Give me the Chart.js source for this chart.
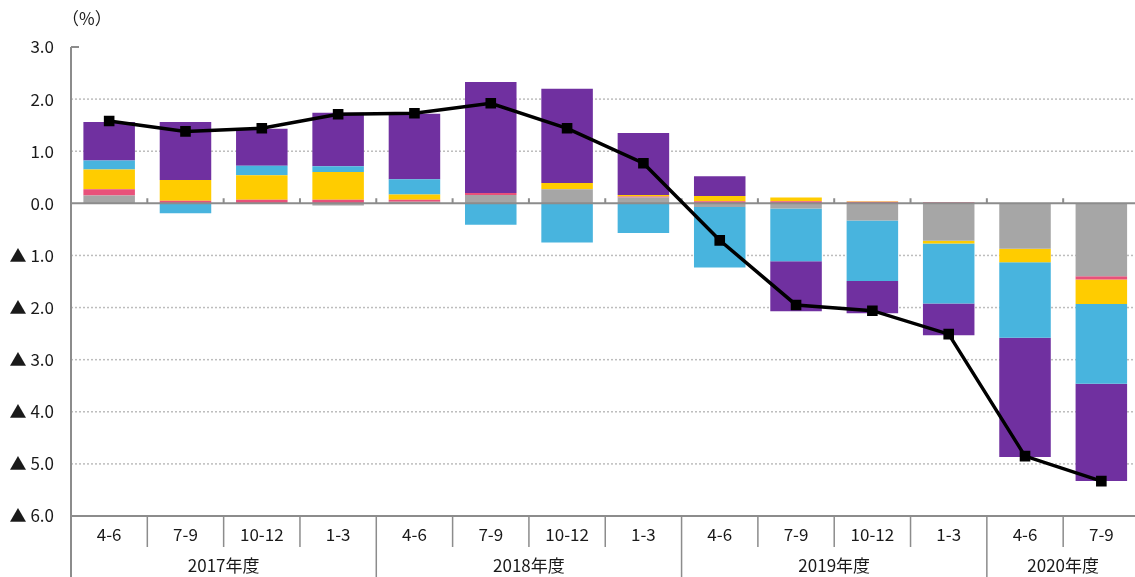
<!DOCTYPE html>
<html>
<head>
<meta charset="utf-8">
<script src="https://cdn.jsdelivr.net/npm/chart.js@4"></script>
<style>
  body { margin: 0; overflow: hidden; background: #fff; }
</style>
</head>
<body>
<canvas id="chart" width="1147" height="577"></canvas>
<script>
// 四半期・年度ラベル
const quarters = ['4-6', '7-9', '10-12', '1-3', '4-6', '7-9', '10-12', '1-3', '4-6', '7-9', '10-12', '1-3', '4-6', '7-9'];
const years = ['2017年度', '2018年度', '2019年度', '2020年度'];
const yearSpans = [4, 4, 4, 2];
const yTicks = [3, 2, 1, 0, -1, -2, -3, -4, -5, -6];

// 寄与度 (%)
const greyVals   = [0.15, 0, 0, -0.04, 0.03, 0.16, 0.27, 0.11, -0.07, -0.10, -0.33, -0.72, -0.87, -1.40];
const pinkVals   = [0.12, 0.05, 0.07, 0.07, 0.04, 0.04, 0, 0.02, 0.04, 0.04, 0.03, 0.02, 0, -0.06];
const yellowVals = [0.38, 0.40, 0.47, 0.53, 0.10, 0, 0.12, 0.03, 0.10, 0.07, 0.01, -0.05, -0.26, -0.47];
const blueVals   = [0.17, -0.19, 0.18, 0.11, 0.29, -0.41, -0.75, -0.57, -1.16, -1.01, -1.16, -1.15, -1.45, -1.53];
const purpleVals = [0.74, 1.11, 0.71, 1.03, 1.26, 2.13, 1.81, 1.19, 0.38, -0.96, -0.62, -0.61, -2.29, -1.87];
const totalVals  = [1.58, 1.38, 1.44, 1.71, 1.73, 1.92, 1.44, 0.77, -0.71, -1.95, -2.06, -2.51, -4.85, -5.33];

const FONT = '"Noto Sans CJK JP", "Noto Sans", sans-serif';
const TEXT = '#1a1a1a';
const AXIS = '#8c8c8c';

function barSet(data, color) {
    return {
        type: 'bar',
        data: data,
        backgroundColor: color,
        borderWidth: 0,
        barPercentage: 0.675,
        categoryPercentage: 1,
        order: 1
    };
}

// 目盛線・表形式の横軸を描く
const tablePlugin = {
    id: 'tablePlugin',
    beforeDatasetsDraw(chart) {
        const { ctx, chartArea: a, scales: { y } } = chart;
        ctx.save();
        ctx.strokeStyle = '#bdbdbd';
        ctx.lineWidth = 1.5;
        ctx.setLineDash([2, 2]);
        yTicks.forEach(v => {
            if (v === 0 || v === -6 || v === 3) return;
            const py = y.getPixelForValue(v);
            ctx.beginPath();
            ctx.moveTo(a.left, py);
            ctx.lineTo(a.right, py);
            ctx.stroke();
        });
        ctx.restore();
    },
    beforeDatasetDraw(chart, args) {
        if (args.meta.type !== 'line') return;
        const { ctx, chartArea: a, scales: { x, y } } = chart;
        const py = y.getPixelForValue(0);
        ctx.save();
        ctx.strokeStyle = AXIS;
        ctx.lineWidth = 2;
        ctx.beginPath();
        ctx.moveTo(a.left, py);
        ctx.lineTo(a.right, py);
        // 区切りの小さな目盛
        for (let i = 1; i < quarters.length; i++) {
            const bx = (x.getPixelForValue(i - 1) + x.getPixelForValue(i)) / 2;
            ctx.moveTo(bx, py);
            ctx.lineTo(bx, py - 5);
        }
        ctx.stroke();
        ctx.restore();
    },
    afterDraw(chart) {
        const { ctx, chartArea: a, scales: { x, y } } = chart;
        const H = chart.height;
        ctx.save();
        ctx.strokeStyle = AXIS;
        ctx.lineWidth = 2;
        ctx.beginPath();
        // 縦軸
        ctx.moveTo(a.left, a.top);
        ctx.lineTo(a.left, H);
        ctx.moveTo(a.left, a.top);
        ctx.lineTo(a.left + 8, a.top);
        // 下端
        ctx.moveTo(a.left, a.bottom);
        ctx.lineTo(a.right, a.bottom);
        ctx.stroke();

        ctx.lineWidth = 1.5;
        ctx.beginPath();
        let idx = 0;
        const yearBounds = [];
        yearSpans.forEach(n => { idx += n; yearBounds.push(idx); });
        for (let i = 1; i < quarters.length; i++) {
            const bx = (x.getPixelForValue(i - 1) + x.getPixelForValue(i)) / 2;
            ctx.moveTo(bx, a.bottom);
            ctx.lineTo(bx, yearBounds.includes(i) ? H : a.bottom + 31);
        }
        ctx.stroke();

        ctx.fillStyle = TEXT;
        ctx.textAlign = 'center';
        ctx.textBaseline = 'middle';
        ctx.font = '17px ' + FONT;
        quarters.forEach((q, i) => {
            ctx.fillText(q, x.getPixelForValue(i), a.bottom + 19);
        });
        let start = 0;
        years.forEach((yr, k) => {
            const end = start + yearSpans[k] - 1;
            const cx = (x.getPixelForValue(start) + x.getPixelForValue(end)) / 2;
            ctx.fillText(yr, cx, a.bottom + 50);
            start = end + 1;
        });

        ctx.textAlign = 'left';
        ctx.fillText('（%）', 62, 19);
        ctx.restore();
    }
};

const ctx = document.getElementById('chart').getContext('2d');
new Chart(ctx, {
    data: {
        labels: quarters,
        datasets: [
            {
                type: 'line',
                data: totalVals,
                borderColor: '#000',
                borderWidth: 3.5,
                pointStyle: 'rect',
                pointRadius: 7.5,
                pointBackgroundColor: '#000',
                pointBorderWidth: 0,
                tension: 0,
                order: 0
            },
            barSet(greyVals, '#a6a6a6'),
            barSet(pinkVals, '#e8517a'),
            barSet(yellowVals, '#ffcc00'),
            barSet(blueVals, '#48b4de'),
            barSet(purpleVals, '#7030a0')
        ]
    },
    options: {
        responsive: false,
        animation: false,
        layout: { padding: { top: 47, right: 0, left: 0, bottom: 0 } },
        plugins: {
            legend: { display: false },
            tooltip: { enabled: false }
        },
        scales: {
            x: {
                stacked: true,
                grid: { display: false },
                border: { display: false },
                ticks: { display: false },
                afterFit: s => { s.height = 61; }
            },
            y: {
                stacked: true,
                min: -6,
                max: 3,
                afterBuildTicks: s => { s.ticks = yTicks.map(v => ({ value: v })); },
                grid: { display: false },
                border: { display: false },
                ticks: {
                    padding: 9,
                    color: TEXT,
                    font: { family: FONT, size: 17 },
                    callback: v => v < 0 ? '▲ ' + Math.abs(v).toFixed(1) : v.toFixed(1)
                },
                afterFit: s => { s.width = 71; }
            }
        }
    },
    plugins: [tablePlugin]
});
</script>
</body>
</html>
